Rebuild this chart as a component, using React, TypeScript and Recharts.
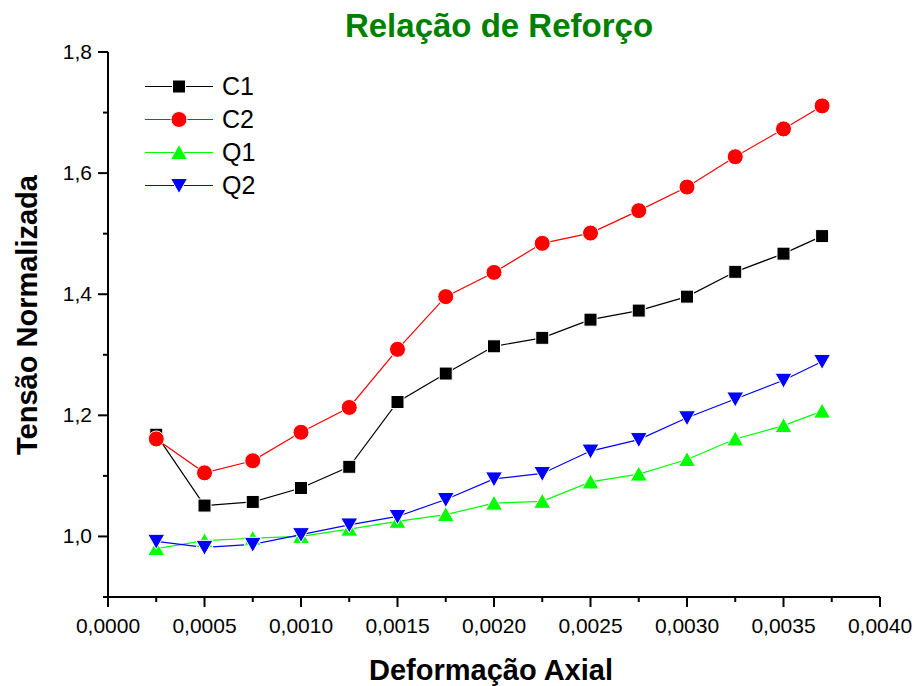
import React from 'react';
import { LineChart, Line, XAxis, YAxis } from 'recharts';

const FONT = '"Liberation Sans", Arial, sans-serif';

// axial strain at each measurement
const strain = [
  0.00025, 0.0005, 0.00075, 0.001, 0.00125, 0.0015, 0.00175, 0.002,
  0.00225, 0.0025, 0.00275, 0.003, 0.00325, 0.0035, 0.0037,
];

// normalized stress per specimen
const c1 = [1.168, 1.051, 1.057, 1.08, 1.115, 1.222, 1.269, 1.314, 1.328, 1.358, 1.373, 1.396, 1.437, 1.467, 1.496];
const c2 = [1.161, 1.105, 1.125, 1.172, 1.213, 1.309, 1.396, 1.436, 1.484, 1.501, 1.538, 1.577, 1.627, 1.673, 1.711];
const q1 = [0.98, 0.993, 0.997, 1.0, 1.012, 1.025, 1.036, 1.055, 1.058, 1.09, 1.103, 1.127, 1.161, 1.183, 1.207];
const q2 = [0.992, 0.982, 0.987, 1.003, 1.019, 1.033, 1.061, 1.095, 1.104, 1.141, 1.16, 1.196, 1.227, 1.258, 1.289];

const xTicks = [
  0, 0.00025, 0.0005, 0.00075, 0.001, 0.00125, 0.0015, 0.00175, 0.002,
  0.00225, 0.0025, 0.00275, 0.003, 0.00325, 0.0035, 0.00375, 0.004,
];
const yTicks = [0.9, 1.0, 1.1, 1.2, 1.3, 1.4, 1.5, 1.6, 1.7, 1.8];

const seriesNames = ['C1', 'C2', 'Q1', 'Q2'];
const seriesColors = ['#000000', '#ff0000', '#00ff00', '#0000ff'];
const seriesShapes = ['square', 'circle', 'up', 'down'];

const rows = strain.map((s, i) => ({ s, C1: c1[i], C2: c2[i], Q1: q1[i], Q2: q2[i] }));

const Marker = ({ cx, cy, shape, color }: { cx: number; cy: number; shape: string; color: string }) => {
  if (shape === 'square') {
    return <rect x={cx - 6.5} y={cy - 6.5} width={13} height={13} fill={color} stroke="#fff" strokeWidth={1} />;
  }
  if (shape === 'circle') {
    return <circle cx={cx} cy={cy} r={8} fill={color} stroke="#fff" strokeWidth={1} />;
  }
  const d = shape === 'up' ? 1 : -1;
  const pts = `${cx},${cy - 8 * d} ${cx - 8.5},${cy + 7 * d} ${cx + 8.5},${cy + 7 * d}`;
  return <polygon points={pts} fill={color} stroke="#fff" strokeWidth={1} />;
};

const XTick = (props: any) => {
  const { x, y, payload } = props;
  const v = payload.value;
  const major = Math.round(v / 0.00025) % 2 === 0;
  return (
    <g>
      <line x1={x} x2={x} y1={y} y2={y + (major ? 10 : 5)} stroke="#000" strokeWidth={2} />
      {major && (
        <text x={x} y={y + 36} textAnchor="middle" fontSize={21} fontFamily={FONT} fill="#000">
          {v.toFixed(4).replace('.', ',')}
        </text>
      )}
    </g>
  );
};

const YTick = (props: any) => {
  const { x, y, payload } = props;
  const v = payload.value;
  const major = Math.round(v * 10) % 2 === 0;
  return (
    <g>
      <line x1={x} x2={x - (major ? 10 : 5)} y1={y} y2={y} stroke="#000" strokeWidth={2} />
      {major && (
        <text x={x - 16} y={y + 7} textAnchor="end" fontSize={21} fontFamily={FONT} fill="#000">
          {v.toFixed(1).replace('.', ',')}
        </text>
      )}
    </g>
  );
};

export default function App() {
  return (
    <div style={{ position: 'absolute', left: 0, top: 0, width: 917, height: 686, background: '#fff', fontFamily: FONT }}>
      <LineChart width={917} height={686} data={rows} margin={{ top: 52, right: 37, bottom: 49, left: 48 }}>
        <XAxis
          dataKey="s"
          type="number"
          domain={[0, 0.004]}
          ticks={xTicks}
          interval={0}
          height={40}
          tickSize={0}
          tickMargin={0}
          tickLine={false}
          tick={<XTick />}
          stroke="#000"
          strokeWidth={2}
          axisLine={{ stroke: '#000', strokeWidth: 2 }}
        />
        <YAxis
          type="number"
          domain={[0.9, 1.8]}
          ticks={yTicks}
          interval={0}
          width={60}
          tickSize={0}
          tickMargin={0}
          tickLine={false}
          tick={<YTick />}
          stroke="#000"
          strokeWidth={2}
          axisLine={{ stroke: '#000', strokeWidth: 2 }}
        />
        {seriesNames.map((name, k) => (
          <Line
            key={name}
            dataKey={name}
            type="linear"
            stroke={seriesColors[k]}
            strokeWidth={1.2}
            isAnimationActive={false}
            activeDot={false}
            dot={(p: any) => (
              <Marker key={`${name}-${p.index}`} cx={p.cx} cy={p.cy} shape={seriesShapes[k]} color={seriesColors[k]} />
            )}
          />
        ))}
      </LineChart>

      <div style={{ position: 'absolute', left: 0, width: 998, top: 6, textAlign: 'center', fontSize: 33, fontWeight: 'bold', color: '#008000', lineHeight: '40px' }}>
        Relação de Reforço
      </div>
      <div style={{ position: 'absolute', left: 0, width: 982, top: 650, textAlign: 'center', fontSize: 29, fontWeight: 'bold', color: '#000', lineHeight: '40px' }}>
        Deformação Axial
      </div>
      <div
        style={{
          position: 'absolute', left: 27, top: 315, width: 400, marginLeft: -200, marginTop: -20,
          textAlign: 'center', fontSize: 29, fontWeight: 'bold', color: '#000', lineHeight: '40px',
          transform: 'rotate(-90deg)',
        }}
      >
        Tensão Normalizada
      </div>

      <div style={{ position: 'absolute', left: 144, top: 70 }}>
        {seriesNames.map((name, k) => (
          <div key={name} style={{ display: 'flex', alignItems: 'center', height: 33 }}>
            <svg width={70} height={33}>
              <line x1={1} x2={69} y1={16.5} y2={16.5} stroke={seriesColors[k]} strokeWidth={1.2} />
              <Marker cx={35} cy={16.5} shape={seriesShapes[k]} color={seriesColors[k]} />
            </svg>
            <span style={{ marginLeft: 8, fontSize: 25, color: '#000' }}>{name}</span>
          </div>
        ))}
      </div>
    </div>
  );
}
